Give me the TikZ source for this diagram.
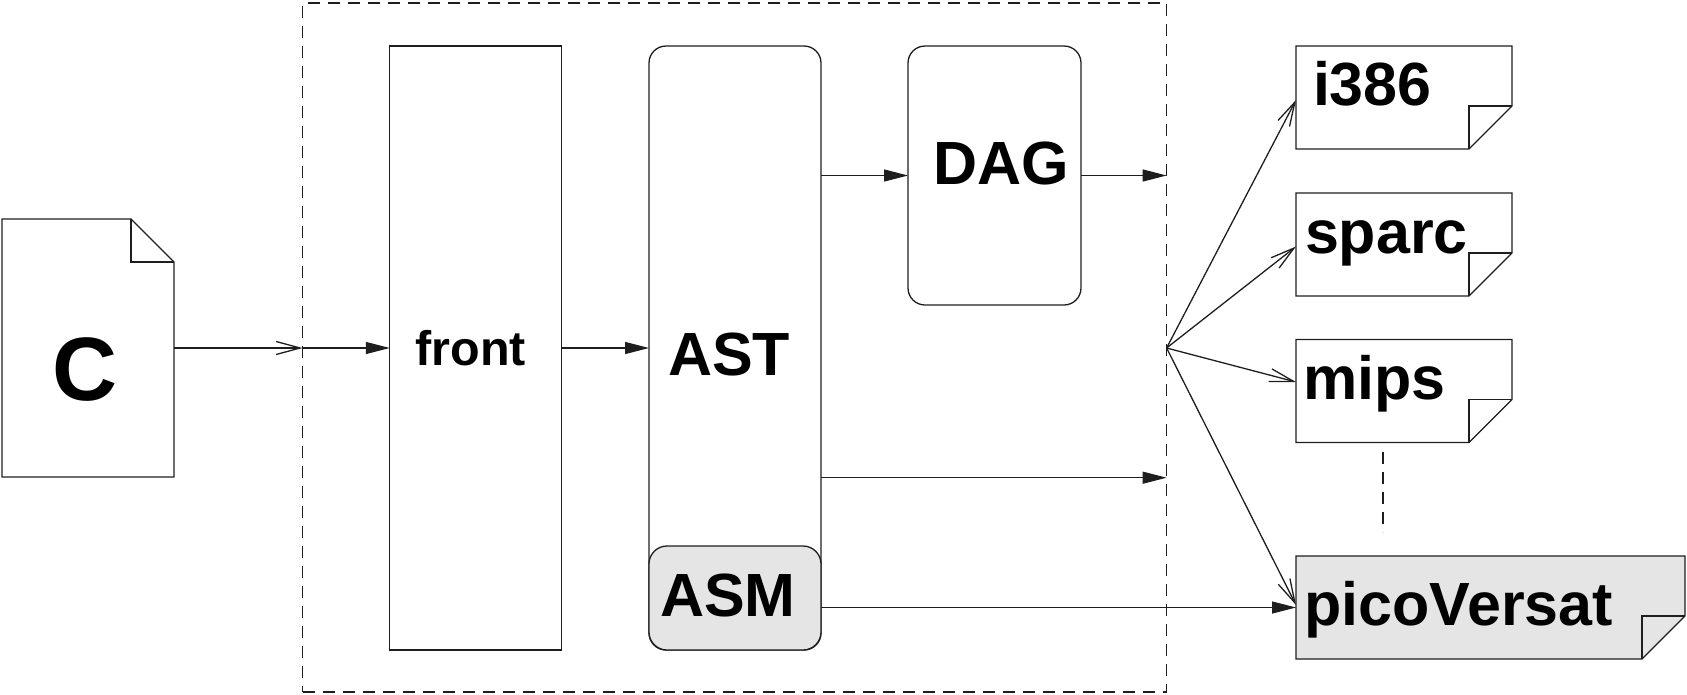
\documentclass[tikz,border=0pt]{standalone}
\usepackage{fontspec}
\setmainfont{Liberation Sans}
\usetikzlibrary{arrows.meta}
\definecolor{boxgray}{RGB}{229,229,229}
\definecolor{ink}{RGB}{30,30,30}
\begin{document}
\begin{tikzpicture}[x=1pt,y=-1pt,
  blk/.style={draw=ink, line width=1.3pt, inner sep=0pt, outer sep=0pt},
  rbox/.style={blk, rounded corners=17pt},
  docbox/.style={inner sep=0pt, outer sep=0pt, minimum width=216pt, minimum height=103pt},
  docline/.style={draw=ink, line width=1.3pt},
  lbl/.style={inner sep=0pt, outer sep=0pt, anchor=base west, font=\bfseries\fontsize{61}{70}\selectfont},
  flow/.style={draw=ink, line width=1.3pt, -{Triangle[length=24pt,width=12pt]}},
  openarrow/.style={draw=ink, line width=1.3pt, -{Straight Barb[length=24pt,width=13pt]}},
  frame/.style={draw=ink, line width=1.2pt, dash pattern=on 12pt off 8pt, inner sep=0pt, outer sep=0pt}
]
\useasboundingbox (0,0) rectangle (1687,694);

% dashed frame
\node[frame, minimum width=864pt, minimum height=689pt] (frame) at (734.6,347.5) {};

% C document
\node[inner sep=0pt, outer sep=0pt, minimum width=172pt, minimum height=258pt] (cdoc) at (88,348) {};
\draw[docline] (cdoc.south west) -- (cdoc.north west) -- ([xshift=-43pt]cdoc.north east)
  -- ([yshift=-43pt]cdoc.north east) -- (cdoc.south east) -- cycle;
\draw[docline] ([xshift=-43pt]cdoc.north east) |- ([yshift=-43pt]cdoc.north east);
\node[inner sep=0pt, anchor=base, font=\bfseries\fontsize{90}{100}\selectfont] (ctext) at (85,400) {C};

% compiler stages
\node[blk, minimum width=172pt, minimum height=604pt] (front) at (475.8,348) {};
\node[lbl, font=\bfseries\fontsize{48.5}{56}\selectfont] (fronttext) at (415.5,365) {front};

\node[rbox, minimum width=172pt, minimum height=604pt] (ast) at (735,348) {};
\node[lbl] (asttext) at (668,375) {AST};

\node[rbox, fill=boxgray, rounded corners=18pt, minimum width=172pt, minimum height=104pt] (asm) at (735,598) {};
\node[lbl] (asmtext) at (660,616) {ASM};

\node[rbox, minimum width=173pt, minimum height=259pt] (dag) at (994.5,175.5) {};
\node[lbl] (dagtext) at (933,184) {DAG};

% target documents
\node[docbox] (i386) at (1404,97.5) {};
\node[docbox] (sparc) at (1404,244.5) {};
\node[docbox] (mips) at (1404,391) {};
\node[docbox, minimum width=389pt] (pico) at (1490.5,607.5) {};
\fill[boxgray] (pico.north west) -- (pico.north east) -- ([yshift=43pt]pico.south east)
  -- ([xshift=-43pt]pico.south east) -- (pico.south west) -- cycle;
\foreach \n in {i386,sparc,mips,pico}{
  \draw[docline] (\n.north west) -- (\n.north east) -- ([yshift=43pt]\n.south east)
    -- ([xshift=-43pt]\n.south east) -- (\n.south west) -- cycle;
  \draw[docline] ([yshift=43pt]\n.south east) -| ([xshift=-43pt]\n.south east);
}
\node[lbl] (i386text) at (1313,105) {i386};
\node[lbl] (sparctext) at (1305,253) {sparc};
\node[lbl] (mipstext) at (1303.5,399) {mips};
\node[lbl] (picotext) at (1304.5,625) {picoVersat};

% coordinates on the frame
\coordinate (in1) at (frame.west |- front.west);
\coordinate (fan) at (frame.east |- front.west);
\coordinate (out1) at (frame.east |- dag.east);
\coordinate (out2) at (1166.6,477.7);
\coordinate (d1) at (1383,452);
\coordinate (d2) at (1383,532);

% connectors
\draw[openarrow] (cdoc.east) -- (in1);
\draw[flow] (in1) -- (front.west);
\draw[flow] (front.east) -- (ast.west);
\draw[flow] (ast.east |- dag.west) -- (dag.west);
\draw[flow] (dag.east) -- (out1);
\draw[flow] (ast.east |- out2) -- (out2);
\draw[flow] (asm.east |- pico.west) -- (pico.west);

\draw[openarrow] (fan) -- ([yshift=-2.5pt]i386.west);
\draw[openarrow] (fan) -- ([yshift=-2pt]sparc.west);
\draw[openarrow] (fan) -- ([yshift=9pt]mips.west);
\draw[openarrow] (fan) -- ([yshift=2.5pt]pico.west);

\draw[draw=ink, line width=1.2pt, dash pattern=on 12pt off 8pt] (d1) -- (d2);
\end{tikzpicture}
\end{document}
